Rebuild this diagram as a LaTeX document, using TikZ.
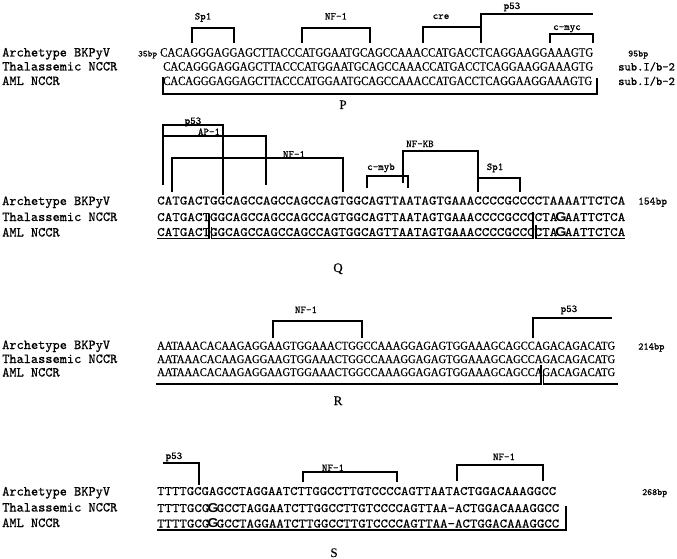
\documentclass[tikz,border=0pt]{standalone}
\usepackage{fontspec}
\usepackage{graphicx}
\setmonofont{lmmono10-regular.otf}[FakeBold=0.6]
\newfontfamily\seqserif{Liberation Serif}[FakeBold=0.4]
\newfontfamily\boldsans{Liberation Sans}
\newcommand\BoldG{\makebox[0.525em]{\smash{\boldsans\bfseries G}}}
\begin{document}
\begin{tikzpicture}[x=1pt,y=-1pt,
  lab/.style={anchor=base west,inner sep=0pt,font=\ttfamily\fontsize{13.7}{14}\selectfont},
  tf/.style={anchor=base,inner sep=0pt,font=\ttfamily\fontsize{10.5}{11}\selectfont},
  bp/.style={anchor=base west,inner sep=0pt,font=\ttfamily\fontsize{9.5}{10}\selectfont},
  seqn/.style={anchor=base west,inner sep=0pt},
  brk/.style={line width=1.2pt},
  blk/.style={anchor=base,inner sep=0pt,font=\seqserif\fontsize{13}{13}\selectfont}]
\useasboundingbox (0,0) rectangle (677,559);

% ---------------- P ----------------
\node[lab] (pa) at (2,56.5) {Archetype BKPyV};
\node[lab] (pt) at (2,70.5) {Thalassemic NCCR};
\node[lab] (pm) at (2,85) {AML NCCR};
\node[bp,font=\ttfamily\fontsize{9}{9}\selectfont] (p35) at (138,56.5) {35bp};
\node[seqn] (psa) at (160,56.5) {\resizebox{433pt}{8.3pt}{\seqserif CACAGGGAGGAGCTTACCCATGGAATGCAGCCAAACCATGACCTCAGGAAGGAAAGTG}};
\node[seqn] (pst) at (163,70.5) {\resizebox{430pt}{8.3pt}{\seqserif CACAGGGAGGAGCTTACCCATGGAATGCAGCCAAACCATGACCTCAGGAAGGAAAGTG}};
\node[seqn] (psm) at (163,85) {\resizebox{429pt}{8.3pt}{\seqserif CACAGGGAGGAGCTTACCCATGGAATGCAGCCAAACCATGACCTCAGGAAGGAAAGTG}};
\node[bp] (p95) at (628,56.5) {95bp};
\node[bp,font=\ttfamily\fontsize{12}{12}\selectfont] (psub1) at (618,70.5) {sub.I/b-2};
\node[bp,font=\ttfamily\fontsize{12}{12}\selectfont] (psub2) at (618,85) {sub.I/b-2};
\draw[brk] (192,43) -- (192,28) -- (234,28) -- (234,43);
\node[tf] (psp1) at (203,19.5) {Sp1};
\draw[brk] (302,43) -- (302,28) -- (370,28) -- (370,43);
\node[tf] (pnf1) at (336,19.5) {NF-1};
\draw[brk] (423,43) -- (423,27) -- (481,27);
\node[tf] (pcre) at (441,19) {cre};
\draw[brk] (481,43) -- (481,14) -- (593,14);
\node[tf] (pp53) at (512,9) {p53};
\draw[brk] (550,43) -- (550,34) -- (593,34) -- (593,43);
\node[tf] (pmyc) at (567,30) {c-myc};
\draw[brk] (163,77) -- (163,94) -- (597,94) -- (597,78);
\node[blk] (pP) at (343,109) {P};

% ---------------- Q ----------------
\node[lab] (qa) at (2,205) {Archetype BKPyV};
\node[lab] (qt) at (2,221) {Thalassemic NCCR};
\node[lab] (qm) at (2,236.5) {AML NCCR};
\node[seqn] (qsa) at (157,204.5) {\resizebox{468pt}{8pt}{\ttfamily CATGACTGGCAGCCAGCCAGCCAGTGGCAGTTAATAGTGAAACCCCGCCCCTAAAATTCTCA}};
\node[seqn] (qst) at (157,221) {\resizebox{468pt}{8pt}{\ttfamily CATGACTGGCAGCCAGCCAGCCAGTGGCAGTTAATAGTGAAACCCCGCCCCTA\BoldG AATTCTCA}};
\node[seqn] (qsm) at (157,236) {\resizebox{468pt}{8pt}{\ttfamily CATGACTGGCAGCCAGCCAGCCAGTGGCAGTTAATAGTGAAACCCCGCCCCTA\BoldG AATTCTCA}};
\node[bp,font=\ttfamily\fontsize{11}{11}\selectfont] (q154) at (638,204.5) {154bp};
\draw[brk] (163,185) -- (163,125) -- (223,125) -- (223,195);
\node[tf] (qp53) at (193,124) {p53};
\draw[brk] (163,136) -- (266,136) -- (266,185);
\node[tf] (qap1) at (209,135) {AP-1};
\draw[brk] (172,192) -- (172,158) -- (343,158) -- (343,192);
\node[tf] (qnf1) at (294,157.5) {NF-1};
\draw[brk] (367,188) -- (367,176) -- (408,176) -- (408,188);
\node[tf] (qmyb) at (381,170) {c-myb};
\draw[brk] (403,183) -- (403,151) -- (478,151) -- (478,192);
\node[tf] (qnfkb) at (420,147) {NF-KB};
\draw[brk] (478,178) -- (520,178) -- (520,192);
\node[tf] (qsp1) at (495,170) {Sp1};
\draw[brk] (157,238.5) -- (209,238.5) -- (209,214);
\draw[brk] (211.5,227) -- (211.5,238.5) -- (533,238.5) -- (533,212);
\draw[brk] (536,225) -- (536,238.5) -- (625,238.5);
\node[blk] (qQ) at (338,272) {Q};

% ---------------- R ----------------
\node[lab] (ra) at (2,349) {Archetype BKPyV};
\node[lab] (rt) at (2,363) {Thalassemic NCCR};
\node[lab] (rm) at (2,376.5) {AML NCCR};
\node[seqn] (rsa) at (157,349.5) {\resizebox{458pt}{7.8pt}{\seqserif AATAAACACAAGAGGAAGTGGAAACTGGCCAAAGGAGAGTGGAAAGCAGCCAGACAGACATG}};
\node[seqn] (rst) at (157,363) {\resizebox{458pt}{7.8pt}{\seqserif AATAAACACAAGAGGAAGTGGAAACTGGCCAAAGGAGAGTGGAAAGCAGCCAGACAGACATG}};
\node[seqn] (rsm) at (157,376) {\resizebox{458pt}{7.8pt}{\seqserif AATAAACACAAGAGGAAGTGGAAACTGGCCAAAGGAGAGTGGAAAGCAGCCAGACAGACATG}};
\node[bp,font=\ttfamily\fontsize{10}{10}\selectfont] (r214) at (638,349.5) {214bp};
\draw[brk] (273,338) -- (273,321) -- (362,321) -- (362,338);
\node[tf] (rnf1) at (306,313) {NF-1};
\draw[brk] (533,338) -- (533,318) -- (612,318);
\node[tf] (rp53) at (569,312) {p53};
\draw[brk] (156,384) -- (541,384) -- (541,365);
\draw[brk] (543.5,370) -- (543.5,384) -- (618,384);
\node[blk] (rR) at (338,405) {R};

% ---------------- S ----------------
\node[lab] (sa) at (2,495.5) {Archetype BKPyV};
\node[lab] (st) at (2,511.5) {Thalassemic NCCR};
\node[lab] (sm) at (2,527) {AML NCCR};
\node[seqn] (ssa) at (157,495) {\resizebox{399pt}{8pt}{\ttfamily TTTTGCGAGCCTAGGAATCTTGGCCTTGTCCCCAGTTAATACTGGACAAAGGCC}};
\node[seqn] (sst) at (157,512) {\resizebox{402pt}{8pt}{\ttfamily TTTTGCG\BoldG GCCTAGGAATCTTGGCCTTGTCCCCAGTTAA-ACTGGACAAAGGCC}};
\node[seqn] (ssm) at (157,527.5) {\resizebox{402pt}{8pt}{\ttfamily TTTTGCG\BoldG GCCTAGGAATCTTGGCCTTGTCCCCAGTTAA-ACTGGACAAAGGCC}};
\node[bp,font=\ttfamily\fontsize{9.5}{10}\selectfont] (s268) at (642,495) {268bp};
\draw[brk] (163,463) -- (199,463) -- (199,485);
\node[tf] (sp53) at (174,459) {p53};
\draw[brk] (303,482) -- (303,472) -- (397,472) -- (397,482);
\node[tf] (snf1a) at (333,471) {NF-1};
\draw[brk] (457,481) -- (457,465) -- (543,465) -- (543,481);
\node[tf] (snf1b) at (504,460) {NF-1};
\draw[brk] (157,530) -- (566,530) -- (566,506);
\node[blk] (sS) at (334,557) {S};
\end{tikzpicture}
\end{document}
